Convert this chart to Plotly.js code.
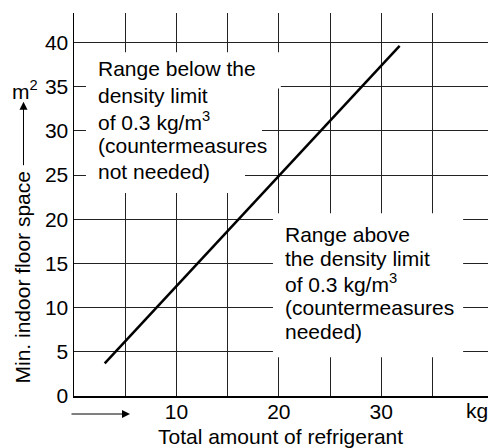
<!DOCTYPE html>
<html>
<head>
<meta charset="utf-8">
<script src="https://cdn.plot.ly/plotly-3.0.1.min.js"></script>
<style>html,body{margin:0;padding:0;background:#fff;}#chart{width:497px;height:448px;}</style>
</head>
<body>
<div id="chart"></div>
<script>
// Data
const refrigerantKg = [3, 31.8];
const minFloorSpace = [3.7, 39.6];
const xTickVals = [5, 10, 15, 20, 25, 30, 35];
const xTickText = ['', '10', '', '20', '', '30', ''];
const yTickVals = [0, 5, 10, 15, 20, 25, 30, 35, 40];
const belowLines = ['Range below the', 'density limit', 'of 0.3 kg/m<sup>3</sup>', '(countermeasures', 'not needed)'];
const aboveLines = ['Range above', 'the density limit', 'of 0.3 kg/m<sup>3</sup>', '(countermeasures', 'needed)'];

const FONT = 'Liberation Sans, Arial, Helvetica, sans-serif';
const FS = 21;

const belowY = [37.0, 34.05, 31.15, 28.3, 25.35];
const aboveY = [18.3, 15.5, 12.75, 10.0, 7.25];

const annotations = [];
belowLines.forEach((t, i) => annotations.push({
  x: 2.15, y: belowY[i], xref: 'x', yref: 'y', text: t, showarrow: false,
  xanchor: 'left', yanchor: 'middle', font: {family: FONT, size: FS, color: '#000'}
}));
aboveLines.forEach((t, i) => annotations.push({
  x: 20.44, y: aboveY[i], xref: 'x', yref: 'y', text: t, showarrow: false,
  xanchor: 'left', yanchor: 'middle', font: {family: FONT, size: FS, color: '#000'}
}));
// y-axis title pieces
annotations.push({
  x: -0.1244, y: 0.3107, xref: 'paper', yref: 'paper', text: 'Min. indoor floor space', textangle: -90,
  showarrow: false, xanchor: 'center', yanchor: 'middle', font: {family: FONT, size: FS, color: '#000'}
});
annotations.push({
  x: -0.1220, y: 0.7684, xref: 'paper', yref: 'paper', text: '', showarrow: true,
  ax: 0, ay: 65, arrowhead: 2, arrowsize: 1.6, arrowwidth: 1, arrowcolor: '#000'
});
annotations.push({
  x: -0.1184, y: 0.799, xref: 'paper', yref: 'paper', text: 'm<sup>2</sup>', showarrow: false,
  xanchor: 'center', yanchor: 'middle', font: {family: FONT, size: FS, color: '#000'}
});
// x-axis title pieces
annotations.push({
  x: 0.4976, y: -0.107, xref: 'paper', yref: 'paper', text: 'Total amount of refrigerant', showarrow: false,
  xanchor: 'center', yanchor: 'middle', font: {family: FONT, size: FS, color: '#000'}
});
annotations.push({
  x: 0.1353, y: -0.047, xref: 'paper', yref: 'paper', text: '', showarrow: true,
  ax: -60, ay: 0, arrowhead: 2, arrowsize: 1.6, arrowwidth: 1, arrowcolor: '#000'
});
annotations.push({
  x: 0.9734, y: -0.039, xref: 'paper', yref: 'paper', text: 'kg', showarrow: false,
  xanchor: 'center', yanchor: 'middle', font: {family: FONT, size: FS, color: '#000'}
});

function mask(x0, x1, y0, y1) {
  return {type: 'rect', xref: 'x', yref: 'y', x0: x0, x1: x1, y0: y0, y1: y1,
    fillcolor: '#fff', line: {width: 0}, layer: 'between'};
}
const shapes = [
  mask(1.17, 20.2, 34.8, 38.9),
  mask(1.17, 18.36, 27.8, 34.9),
  mask(1.17, 16.7, 22.96, 27.8),
  mask(19.43, 38.0, 4.38, 20.67)
];

const trace = {
  x: refrigerantKg, y: minFloorSpace, type: 'scatter', mode: 'lines',
  line: {color: '#000', width: 2.5}, hoverinfo: 'skip', cliponaxis: false
};

const layout = {
  width: 497, height: 448,
  margin: {l: 74, r: 9, t: 13, b: 52},
  paper_bgcolor: '#fff', plot_bgcolor: '#fff',
  showlegend: false,
  font: {family: FONT, size: FS, color: '#000'},
  xaxis: {
    range: [0, 40.43], tickvals: xTickVals, ticktext: xTickText,
    showgrid: true, gridcolor: '#222', gridwidth: 1,
    zeroline: false, showline: true, linecolor: '#000', linewidth: 2,
    ticks: '', ticklabelstandoff: -4, tickfont: {family: FONT, size: FS, color: '#000'},
    fixedrange: true
  },
  yaxis: {
    range: [0, 43.33], tickvals: yTickVals,
    showgrid: true, gridcolor: '#222', gridwidth: 1,
    zeroline: false, showline: true, linecolor: '#000', linewidth: 1.5,
    ticks: '', ticklabelstandoff: 0, tickfont: {family: FONT, size: FS, color: '#000'},
    fixedrange: true
  },
  annotations: annotations,
  shapes: shapes
};

Plotly.newPlot('chart', [trace], layout, {staticPlot: true, displayModeBar: false});
</script>
</body>
</html>
